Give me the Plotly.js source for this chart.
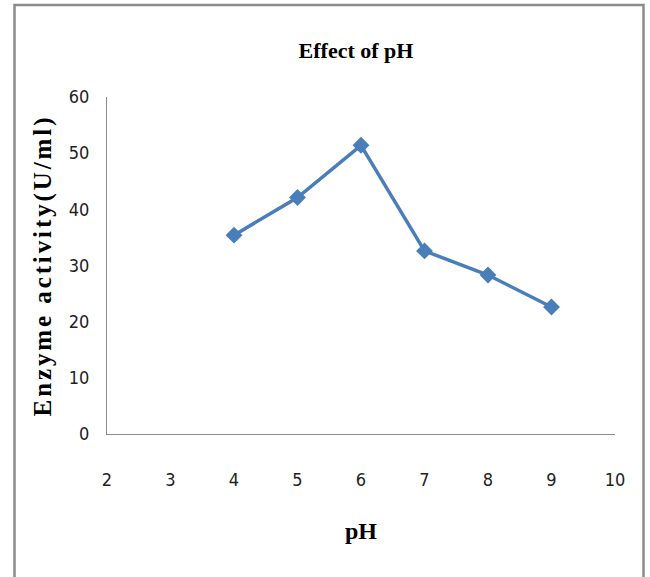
<!DOCTYPE html>
<html>
<head>
<meta charset="utf-8">
<script src="https://cdn.plot.ly/plotly-3.0.1.min.js"></script>
<style>
html,body{margin:0;padding:0;background:#fff;}
#chart{width:650px;height:577px;}
.ytitle{letter-spacing:2.9px;}
.xtick text,.ytick text{font-stretch:condensed;}
</style>
</head>
<body>
<div id="chart"></div>
<script>
var pH = [4, 5, 6, 7, 8, 9];
var activity = [35.4, 42.1, 51.4, 32.6, 28.3, 22.6];
var xTicks = [2, 3, 4, 5, 6, 7, 8, 9, 10];
var yTicks = [0, 10, 20, 30, 40, 50, 60];

var tickFont = {family: '"Liberation Sans Narrow", "DejaVu Sans Condensed", "Liberation Sans", sans-serif', size: 18, color: '#222'};
var serifBold = '"Liberation Serif", "Times New Roman", serif';

var trace = {
  x: pH, y: activity, type: 'scatter', mode: 'lines+markers',
  line: {color: '#4A7EBB', width: 3.5},
  marker: {symbol: 'diamond', size: 13, color: '#4A7EBB'},
  hoverinfo: 'x+y'
};

var L = 107, R = 615, T = 97, B = 434;
function px(xp){ return (xp - L) / (R - L); }
function py(yp){ return (B - yp) / (B - T); }

var layout = {
  width: 650, height: 577,
  margin: {l: L, r: 650 - R, t: T, b: 577 - B},
  paper_bgcolor: '#fff', plot_bgcolor: '#fff',
  showlegend: false,
  title: {text: '<b>Effect of pH</b>', font: {family: serifBold, size: 22, color: '#000'},
          x: 356/650, xanchor: 'center', y: 1 - 50/577, yanchor: 'middle'},
  xaxis: {
    range: [2, 10], tickvals: xTicks, ticktext: xTicks.map(String),
    showgrid: false, zeroline: false, showline: true, linecolor: '#8c8c8c', linewidth: 1,
    ticks: '', tickfont: tickFont, ticklabelstandoff: 29,
    title: {text: '<b>pH</b>', font: {family: serifBold, size: 24, color: '#000'}, standoff: 33}
  },
  yaxis: {
    range: [0, 60], tickvals: yTicks, ticktext: yTicks.map(String),
    showgrid: false, zeroline: false, showline: true, linecolor: '#8c8c8c', linewidth: 1,
    ticks: '', tickfont: tickFont, ticklabelstandoff: 13,
    title: {text: '<b>Enzyme activity(U/ml)</b>', font: {family: serifBold, size: 25, color: '#000'}, standoff: 10}
  },
  shapes: [{
    type: 'rect', xref: 'paper', yref: 'paper', layer: 'above',
    x0: px(14.5), x1: px(643.5), y0: py(600), y1: py(5),
    line: {color: '#8c8c8c', width: 2.5}, fillcolor: 'rgba(0,0,0,0)'
  }]
};

Plotly.newPlot('chart', [trace], layout, {displayModeBar: false, staticPlot: true});
</script>
</body>
</html>
